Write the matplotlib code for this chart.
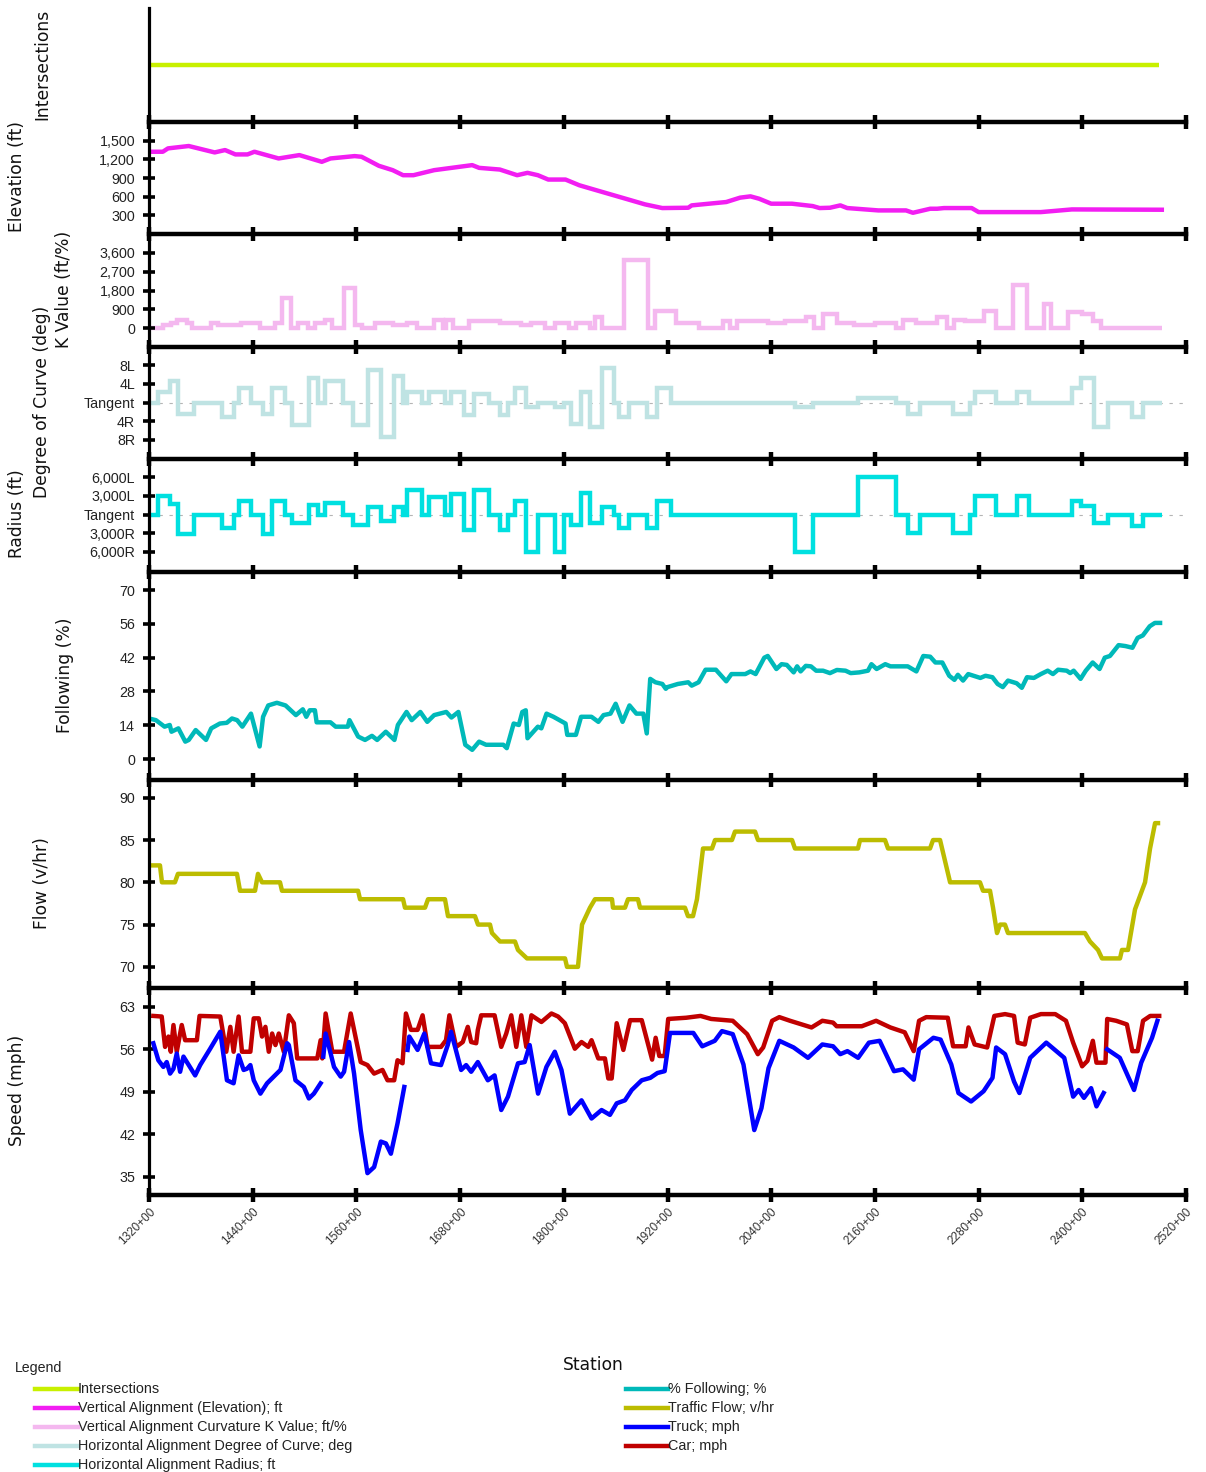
import numpy as np
import matplotlib
matplotlib.use("Agg")
import matplotlib.pyplot as plt
from matplotlib.lines import Line2D

# ---------------- data ----------------
station_ticks = [1320, 1440, 1560, 1680, 1800, 1920, 2040, 2160, 2280, 2400, 2520]

intersection_station = [1322, 2489]
intersection_level = [1, 1]

elev_station = [1321, 1336, 1342, 1366, 1396, 1408, 1420, 1434, 1442, 1470, 1494, 1520, 1530,
                1558, 1566, 1586, 1602, 1614, 1626, 1650, 1694, 1702, 1726, 1746, 1758, 1770,
                1782, 1802, 1818, 1838, 1874, 1894, 1914, 1944, 1948, 1988, 2004, 2016, 2026,
                2040, 2064, 2088, 2096, 2108, 2120, 2128, 2164, 2196, 2204, 2224, 2232, 2240,
                2272, 2280, 2352, 2388, 2492]
elev_ft = [1322, 1322, 1376, 1414, 1311, 1349, 1279, 1279, 1322, 1214, 1268, 1160, 1214,
           1252, 1241, 1096, 1026, 945, 945, 1026, 1107, 1063, 1036, 945, 983, 945,
           875, 875, 783, 702, 557, 476, 417, 422, 460, 514, 584, 605, 567,
           487, 487, 449, 417, 422, 460, 417, 379, 379, 341, 406, 406, 417,
           417, 352, 352, 395, 390]

k_edges = [1320, 1336, 1346, 1352, 1364, 1370, 1392, 1400, 1426, 1448, 1466, 1474, 1484, 1492,
           1504, 1512, 1524, 1532, 1546, 1558, 1566, 1582, 1602, 1618, 1630, 1650, 1660, 1664,
           1672, 1690, 1726, 1750, 1762, 1778, 1790, 1806, 1814, 1830, 1836, 1844, 1870, 1898,
           1906, 1930, 1956, 1984, 1992, 2000, 2036, 2056, 2080, 2090, 2100, 2116, 2136, 2160,
           2184, 2192, 2208, 2232, 2244, 2252, 2264, 2286, 2300, 2320, 2336, 2356, 2364, 2384,
           2400, 2412, 2422, 2492]
k_value = [0, 160, 270, 400, 270, 0, 240, 160, 240, 0, 240, 1450, 0, 240, 0, 240, 400, 0, 1900,
           160, 0, 240, 160, 240, 0, 400, 0, 400, 0, 320, 240, 160, 240, 0, 240, 0, 240, 0, 510,
           0, 3250, 0, 840, 240, 0, 320, 0, 320, 240, 320, 510, 0, 700, 240, 160, 240, 0, 400,
           240, 510, 0, 400, 350, 840, 0, 2040, 0, 1150, 0, 760, 680, 350, 0]

curve_edges = [1320, 1330, 1344, 1354, 1372, 1404, 1418, 1424, 1438, 1452, 1462, 1477, 1485,
               1505, 1516, 1524, 1545, 1556, 1573, 1588, 1604, 1614, 1618, 1636, 1644, 1662,
               1670, 1684, 1696, 1714, 1726, 1736, 1744, 1756, 1770, 1790, 1800, 1808, 1820,
               1830, 1844, 1858, 1864, 1876, 1896, 1908, 1924, 2068, 2088, 2140, 2184, 2198,
               2212, 2250, 2270, 2276, 2300, 2324, 2338, 2388, 2398, 2414, 2430, 2458, 2470, 2492]
degree_of_curve = [0, 2.3, 4.6, -2.4, 0, -3.1, 0, 3.1, 0, -2.4, 3.1, 0, -4.9, 5.3, 0, 4.6, 0,
                   -4.9, 6.9, -7.4, 5.7, 0, 2.3, 0, 2.3, 0, 2.3, -2.7, 1.9, 0, -2.7, 0, 3.1,
                   -0.9, 0, -0.9, 0, -4.5, 2.3, -5.2, 7.3, 0, -3.1, 0, -3.1, 3.1, 0, -0.9, 0,
                   0.9, 0, -2.4, 0, -2.4, 0, 2.3, 0, 2.3, 0, 3.1, 5.3, -5.2, 0, -3.1, 0]
radius_ft = [0, 3000, 1750, -3160, 0, -2180, 0, 2180, 0, -3160, 2180, 0, -1360, 1470, 0, 1900, 0,
             -1640, 1200, -1090, 1200, 0, 3980, 0, 2830, 0, 3270, -2450, 3980, 0, -2450, 0, 2180,
             -6000, 0, -6000, 0, -1640, 3430, -1360, 1250, 0, -2180, 0, -2180, 2180, 0, -6000, 0,
             6000, 0, -3000, 0, -3000, 0, 3000, 0, 3000, 0, 2180, 1360, -1360, 0, -1900, 0]

follow_station = [1320, 1328, 1338, 1344, 1346, 1354, 1362, 1366, 1374, 1386, 1392, 1402, 1410,
                  1416, 1422, 1428, 1438, 1448, 1452, 1458, 1468, 1478, 1490, 1498, 1502, 1506,
                  1512, 1514, 1530, 1536, 1550, 1552, 1562, 1570, 1578, 1584, 1594, 1604, 1608,
                  1618, 1624, 1634, 1642, 1650, 1664, 1670, 1678, 1686, 1694, 1702, 1710, 1730,
                  1734, 1742, 1748, 1752, 1756, 1758, 1770, 1774, 1780, 1788, 1802, 1804, 1814,
                  1820, 1832, 1840, 1846, 1854, 1860, 1868, 1876, 1884, 1892, 1896, 1900, 1906,
                  1914, 1918, 1920, 1932, 1944, 1948, 1956, 1964, 1976, 1988, 1994, 2010, 2016,
                  2022, 2032, 2036, 2046, 2052, 2058, 2066, 2070, 2074, 2080, 2086, 2092, 2100,
                  2108, 2116, 2126, 2132, 2142, 2152, 2156, 2162, 2172, 2178, 2198, 2208, 2216,
                  2224, 2230, 2238, 2246, 2252, 2256, 2262, 2268, 2282, 2288, 2296, 2302, 2308,
                  2314, 2324, 2330, 2336, 2344, 2352, 2360, 2366, 2372, 2382, 2386, 2390, 2398,
                  2404, 2412, 2420, 2426, 2432, 2442, 2450, 2458, 2464, 2470, 2478, 2484, 2490]
follow_pct = [16.8, 16.1, 13.4, 14.1, 11.3, 12.7, 7.2, 7.9, 12.0, 7.9, 12.7, 14.7, 15.0,
              16.8, 16.1, 13.4, 18.8, 5.2, 17.5, 22.2, 23.3, 22.2, 18.2, 20.6, 17.5, 20.2,
              20.2, 15.2, 15.2, 13.4, 13.4, 16.1, 9.3, 7.9, 9.6, 7.9, 11.3, 7.9, 14.1,
              19.5, 16.1, 19.5, 15.4, 18.2, 19.5, 17.2, 19.5, 5.9, 3.8, 7.2, 5.9, 5.9,
              4.5, 14.7, 14.1, 19.5, 20.2, 8.6, 13.4, 12.7, 18.8, 17.5, 14.7, 10.0, 10.0,
              17.5, 17.5, 15.4, 18.2, 18.8, 22.9, 15.4, 22.2, 18.8, 18.8, 10.6, 33.2, 31.8,
              31.1, 29.1, 29.8, 31.1, 31.8, 30.4, 31.8, 37.0, 37.0, 32.2, 35.2, 35.2, 36.3,
              35.2, 42.0, 42.7, 37.3, 39.3, 39.0, 35.9, 38.4, 36.3, 38.6, 38.4, 36.6, 36.6,
              35.6, 36.9, 36.6, 35.6, 35.9, 36.6, 39.3, 37.3, 39.3, 38.4, 38.4, 36.3, 42.7,
              42.4, 40.0, 40.0, 34.5, 32.8, 34.9, 32.5, 35.2, 33.6, 34.5, 33.9, 31.1, 29.8,
              32.5, 31.4, 29.5, 33.9, 33.6, 35.2, 36.6, 35.2, 37.0, 36.6, 35.6, 36.6, 33.2,
              36.6, 40.0, 37.3, 42.0, 42.7, 47.2, 46.8, 46.1, 50.2, 51.2, 55.0, 56.4, 56.4]

flow_station = [1323.5, 1332.7, 1335, 1350, 1353.5, 1421.8, 1425.3, 1442.7, 1446.1, 1450.8,
                1471.6, 1473.9, 1561.9, 1564.2, 1614, 1616.2, 1639.4, 1642.9, 1662.5, 1666,
                1697.2, 1700.7, 1714.6, 1716.9, 1726.2, 1743.5, 1747, 1757.4, 1801.4, 1803.7,
                1816.4, 1821.1, 1830.3, 1836.1, 1855.8, 1856.9, 1870.8, 1874.3, 1885.8, 1888.2,
                1940.2, 1943.7, 1949.5, 1954.1, 1961.1, 1971.5, 1975, 1994.6, 1998.1, 2021.3,
                2024.7, 2064.1, 2067.5, 2140.4, 2142.8, 2171.7, 2175.2, 2223.8, 2227.3, 2235.4,
                2247, 2281.6, 2285.1, 2293.2, 2296.7, 2301.3, 2304.8, 2310.5, 2314, 2403.1,
                2408.9, 2418.2, 2422.8, 2443.6, 2445.9, 2452.9, 2461, 2472.6, 2478.4, 2484.2,
                2487.6]
flow_vph = [82, 82, 80, 80, 81, 81, 79, 79, 81, 80,
            80, 79, 79, 78, 78, 77, 77, 78, 78, 76,
            76, 75, 75, 74, 73, 73, 72, 71, 71, 70,
            70, 75, 77, 78, 78, 77, 77, 78, 78, 77,
            77, 76, 76, 78, 84, 84, 85, 85, 86, 86,
            85, 85, 84, 84, 85, 85, 84, 84, 85, 85,
            80, 80, 79, 79, 77, 74, 75, 75, 74, 74,
            73, 72, 71, 71, 72, 72, 76.8, 80, 84, 87,
            87]

car_station = [1325.0, 1334.7, 1338.6, 1342.5, 1345.2, 1348.3, 1352.1, 1357.9, 1361.8, 1375.4,
               1378.5, 1402.5, 1409.4, 1414.1, 1417.9, 1423.7, 1427.6, 1437.3, 1441.2, 1447.0,
               1450.8, 1454.7, 1458.6, 1462.5, 1466.3, 1470.2, 1476.0, 1481.8, 1487.6, 1491.5,
               1514.7, 1518.6, 1520.5, 1524.4, 1532.1, 1545.7, 1553.4, 1565.0, 1572.8, 1580.5,
               1590.2, 1596.0, 1603.7, 1607.6, 1613.4, 1617.3, 1623.1, 1630.8, 1636.6, 1642.5,
               1657.9, 1663.7, 1667.6, 1675.4, 1683.1, 1688.9, 1692.8, 1698.6, 1700.5, 1704.4,
               1719.9, 1727.6, 1733.4, 1739.2, 1745.0, 1750.8, 1756.6, 1762.5, 1774.1, 1785.7,
               1793.4, 1801.2, 1812.8, 1820.5, 1828.3, 1832.1, 1839.9, 1847.6, 1851.5, 1855.4,
               1861.2, 1868.9, 1876.7, 1890.2, 1902.2, 1906.3, 1910.5, 1916.7, 1920.8, 1941.6,
               1958.2, 1970.6, 1995.5, 2012.1, 2024.5, 2030.7, 2041.1, 2049.4, 2061.8, 2086.7,
               2099.2, 2111.6, 2115.7, 2144.8, 2161.4, 2177.9, 2194.5, 2204.9, 2211.1, 2219.4,
               2244.3, 2250.5, 2265.0, 2268.3, 2275.4, 2289.9, 2298.2, 2310.6, 2321.0, 2325.2,
               2333.5, 2339.7, 2352.1, 2368.7, 2381.1, 2389.4, 2399.8, 2406.0, 2412.2, 2416.4,
               2426.8, 2428.8, 2439.2, 2451.6, 2457.9, 2464.1, 2470.3, 2478.6, 2489.0]
car_mph = [61.5, 61.4, 56.4, 58.1, 55.6, 60.0, 55.6, 60.0, 57.5, 57.5,
           61.5, 61.4, 55.6, 59.7, 55.6, 61.4, 55.6, 55.6, 61.1, 61.1,
           58.1, 59.7, 55.6, 58.6, 56.7, 58.6, 55.6, 61.6, 60.3, 54.5,
           54.5, 57.5, 54.5, 61.9, 55.6, 55.6, 61.9, 53.9, 53.4, 52.0,
           52.6, 50.9, 50.9, 54.2, 53.7, 61.9, 59.2, 59.2, 61.6, 56.4,
           56.4, 57.5, 61.6, 56.4, 57.2, 59.7, 57.2, 57.0, 59.2, 61.6,
           61.6, 56.4, 58.6, 61.6, 56.4, 61.6, 56.4, 61.6, 60.5, 61.9,
           61.4, 60.3, 56.1, 57.2, 56.4, 57.5, 54.5, 54.5, 51.2, 51.2,
           60.3, 55.9, 60.8, 60.8, 54.3, 57.9, 54.9, 54.9, 61.0, 61.2,
           61.5, 61.0, 60.7, 58.5, 55.2, 56.3, 60.7, 61.3, 60.7, 59.6,
           60.7, 60.4, 59.8, 59.8, 60.7, 59.6, 58.8, 55.7, 60.7, 61.3,
           61.2, 56.5, 56.5, 59.6, 56.8, 56.3, 61.5, 61.8, 61.5, 57.1,
           56.8, 61.2, 61.8, 61.8, 60.7, 57.1, 53.2, 54.1, 57.4, 53.8,
           53.8, 61.0, 60.7, 60.1, 55.7, 55.7, 60.7, 61.5, 61.5]

# NaN marks a gap in the truck series
truck_station = [1325.0, 1330.8, 1336.6, 1340.5, 1344.4, 1348.3, 1352.1, 1356.0, 1359.9, 1373.4,
                 1379.2, 1390.8, 1402.5, 1410.2, 1417.9, 1423.7, 1429.5, 1433.4, 1437.3, 1441.2,
                 1448.9, 1456.6, 1472.1, 1479.9, 1481.8, 1489.5, 1499.2, 1505.0, 1510.8, 1518.6,
                 1520.0, 1521.7, 1524.4, 1534.1, 1541.8, 1545.7, 1551.5, 1557.3, 1565.0, 1572.8,
                 1580.5, 1588.3, 1594.1, 1599.9, 1607.6, 1615.4, 1617.0, 1619.2, 1621.2, 1630.8,
                 1638.6, 1646.3, 1657.9, 1665.7, 1669.5, 1681.2, 1687.0, 1692.8, 1700.5, 1712.1,
                 1719.9, 1727.6, 1735.4, 1747.0, 1754.7, 1760.5, 1770.2, 1779.9, 1789.6, 1797.3,
                 1807.0, 1820.5, 1832.1, 1843.7, 1853.4, 1861.2, 1870.8, 1878.6, 1890.2, 1900.1,
                 1908.4, 1916.7, 1922.9, 1949.9, 1960.2, 1974.7, 1983.0, 1995.5, 2007.9, 2020.4,
                 2028.7, 2036.9, 2049.4, 2066.0, 2082.6, 2099.2, 2111.6, 2119.9, 2128.2, 2140.6,
                 2153.1, 2165.5, 2182.1, 2192.5, 2204.9, 2211.1, 2227.7, 2236.0, 2248.4, 2256.7,
                 2271.3, 2285.8, 2296.1, 2300.3, 2310.6, 2321.0, 2327.2, 2339.7, 2358.3, 2379.1,
                 2389.4, 2395.7, 2401.9, 2410.2, 2416.4, 2424.7, 2426.5, 2428.8, 2443.4, 2459.9,
                 2468.2, 2480.7, 2486.9]
truck_mph = [57.0, 54.2, 53.1, 53.9, 52.0, 52.8, 55.3, 52.3, 54.8, 51.7,
             53.4, 56.1, 58.9, 50.9, 50.4, 55.0, 52.6, 52.8, 53.4, 50.9,
             48.7, 50.4, 52.6, 57.0, 56.7, 50.9, 49.8, 47.9, 48.7, 50.4,
             np.nan, 54.8, 58.6, 53.1, 51.5, 52.3, 57.2, 52.0, 42.7, 35.6,
             36.6, 40.8, 40.5, 38.8, 43.8, 49.8, np.nan, 55.9, 58.1, 55.9,
             58.6, 53.7, 53.4, 56.7, 58.9, 52.6, 53.4, 52.3, 53.9, 50.9,
             51.7, 46.0, 48.2, 53.7, 53.9, 56.7, 48.7, 53.1, 55.6, 52.6,
             45.4, 47.6, 44.6, 46.0, 45.2, 47.1, 47.6, 49.3, 50.9, 51.3,
             52.1, 52.4, 58.7, 58.7, 56.5, 57.4, 59.0, 58.5, 53.5, 42.7,
             46.3, 52.9, 57.4, 56.3, 54.6, 56.8, 56.5, 55.2, 55.7, 54.6,
             57.1, 57.4, 52.4, 52.7, 51.0, 56.0, 57.9, 57.6, 53.5, 48.8,
             47.4, 49.1, 51.3, 56.3, 55.2, 50.7, 48.8, 54.6, 57.1, 54.6,
             48.2, 49.3, 48.0, 49.6, 46.6, 48.8, np.nan, 56.0, 54.6, 49.3,
             53.8, 57.9, 60.7]

legend_left = ["Intersections", "Vertical Alignment (Elevation); ft",
               "Vertical Alignment Curvature K Value; ft/%",
               "Horizontal Alignment Degree of Curve; deg", "Horizontal Alignment Radius; ft"]
legend_right = ["% Following; %", "Traffic Flow; v/hr", "Truck; mph", "Car; mph"]

# ---------------- style ----------------
C_INT = "#c8f000"
C_ELEV = "#f21ef2"
C_K = "#f4b8ef"
C_DEG = "#bfe3e3"
C_RAD = "#00e0e0"
C_FOL = "#00b9b9"
C_FLOW = "#bcbc00"
C_TRUCK = "#0000ff"
C_CAR = "#c00000"

W, H = 1206, 1472
fig = plt.figure(figsize=(W / 100, H / 100), dpi=100)
NARROW = ["Liberation Sans Narrow", "Liberation Sans", "DejaVu Sans"]
REG = ["Liberation Sans", "DejaVu Sans"]
YTICK_SIZE = 10.3
LEG_SIZE = 10.4


def panel(top, bottom):
    ax = fig.add_axes([149 / W, 1 - bottom / H, (1186 - 149) / W, (bottom - top) / H])
    ax.patch.set_alpha(0)
    ax.set_xlim(1320, 2520)
    for s in ("top", "right"):
        ax.spines[s].set_visible(False)
    ax.spines["left"].set_linewidth(2.3)
    ax.spines["bottom"].set_linewidth(3.2)
    ax.set_xticks(station_ticks)
    ax.tick_params(axis="x", direction="inout", length=10, width=3.2, labelbottom=False)
    ax.tick_params(axis="y", direction="inout", length=8, width=2.6, pad=6)
    return ax


def set_yticks(ax, ticks, labels):
    ax.set_yticks(ticks)
    ax.set_yticklabels(labels, fontfamily=REG, fontsize=YTICK_SIZE, color="#222222")


# Intersections
ax0 = panel(8, 122)
ax0.plot(intersection_station, intersection_level, color=C_INT, lw=3.2, solid_capstyle="butt")
ax0.set_ylim(0, 2)
ax0.set_yticks([])

# Elevation
ax1 = panel(122, 234)
ax1.plot(elev_station, elev_ft, color=C_ELEV, lw=3.2)
ax1.set_ylim(0, 1800)
set_yticks(ax1, [300, 600, 900, 1200, 1500], ["300", "600", "900", "1,200", "1,500"])

# K value
ax2 = panel(234, 347)
ax2.stairs(k_value, k_edges, color=C_K, lw=3.2, baseline=None)
ax2.set_ylim(-900, 4500)
set_yticks(ax2, [0, 900, 1800, 2700, 3600], ["0", "900", "1,800", "2,700", "3,600"])

# Degree of curve
ax3 = panel(347, 459)
ax3.axhline(0, color="#b5b5b5", lw=0.8, dashes=(3, 6), zorder=1)
ax3.stairs(degree_of_curve, curve_edges, color=C_DEG, lw=3.2, baseline=None, zorder=2)
ax3.set_ylim(-12.1, 11.9)
set_yticks(ax3, [-8, -4, 0, 4, 8], ["8R", "4R", "Tangent", "4L", "8L"])

# Radius
ax4 = panel(459, 572)
ax4.axhline(0, color="#b5b5b5", lw=0.8, dashes=(3, 6), zorder=1)
ax4.stairs(radius_ft, curve_edges, color=C_RAD, lw=3.2, baseline=None, zorder=2)
ax4.set_ylim(-9230, 8910)
set_yticks(ax4, [-6000, -3000, 0, 3000, 6000],
           ["6,000R", "3,000R", "Tangent", "3,000L", "6,000L"])

# Following
ax5 = panel(572, 780)
ax5.plot(follow_station, follow_pct, color=C_FOL, lw=3.2)
ax5.set_ylim(-8.7, 77.5)
set_yticks(ax5, [0, 14, 28, 42, 56, 70], ["0", "14", "28", "42", "56", "70"])

# Flow
ax6 = panel(780, 988)
ax6.plot(flow_station, flow_vph, color=C_FLOW, lw=3.2)
ax6.set_ylim(67.5, 92.1)
set_yticks(ax6, [70, 75, 80, 85, 90], ["70", "75", "80", "85", "90"])

# Speed
ax7 = panel(988, 1195)
ax7.plot(car_station, car_mph, color=C_CAR, lw=3.2)
ax7.plot(truck_station, truck_mph, color=C_TRUCK, lw=3.2)
ax7.set_ylim(32.0, 66.1)
set_yticks(ax7, [35, 42, 49, 56, 63], ["35", "42", "49", "56", "63"])
ax7.tick_params(axis="x", labelbottom=True, pad=3)
ax7.set_xticklabels([f"{s}+00" for s in station_ticks], rotation=45, ha="right",
                    rotation_mode="anchor", fontfamily=NARROW, fontsize=8.5, color="#333333")

# y-axis titles (staggered, as in the reference)
ylab = [("Intersections", 42, 64), ("Elevation (ft)", 17, 176), ("K Value (ft/%)", 64, 289),
        ("Degree of Curve (deg)", 42, 402), ("Radius (ft)", 17, 514),
        ("Following (%)", 65, 675), ("Flow (v/hr)", 42, 883), ("Speed (mph)", 17, 1090)]
for txt, px, py in ylab:
    fig.text(px / W, 1 - py / H, txt, rotation=90, ha="center", va="center",
             fontsize=12.3, family="DejaVu Sans", color="#111111")

fig.text(593 / W, 1 - 1365 / H, "Station", ha="center", va="center", fontsize=12.3,
         family="DejaVu Sans", color="#111111")

# legend
fig.text(15 / W, 1 - 1368 / H, "Legend", ha="left", va="center", fontsize=10.2,
         family=REG, color="#222222")
left_cols = [C_INT, C_ELEV, C_K, C_DEG, C_RAD]
right_cols = [C_FOL, C_FLOW, C_TRUCK, C_CAR]
for i, (lab, col) in enumerate(zip(legend_left, left_cols)):
    y = 1 - (1389 + 19 * i) / H
    fig.add_artist(Line2D([35 / W, 78 / W], [y, y], color=col, lw=3.2, transform=fig.transFigure))
    fig.text(78 / W, y, lab, ha="left", va="center", fontsize=LEG_SIZE, family=REG,
             color="#222222")
for i, (lab, col) in enumerate(zip(legend_right, right_cols)):
    y = 1 - (1389 + 19 * i) / H
    fig.add_artist(Line2D([626 / W, 668 / W], [y, y], color=col, lw=3.2, transform=fig.transFigure))
    fig.text(668 / W, y, lab, ha="left", va="center", fontsize=LEG_SIZE, family=REG,
             color="#222222")

fig.savefig("out.png", dpi=100)
